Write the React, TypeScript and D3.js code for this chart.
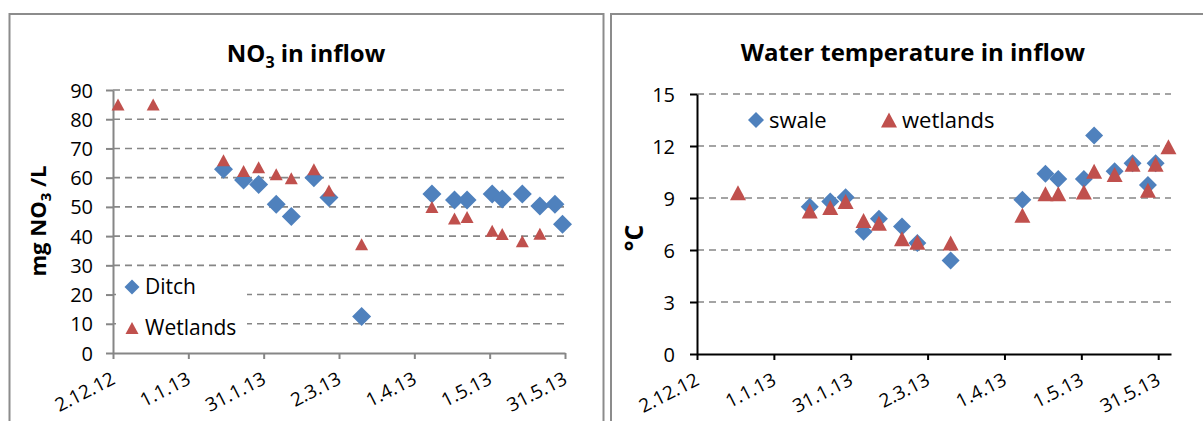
import React, { useEffect, useRef } from 'react';
import * as d3 from 'd3';

const parseDay = d3.utcParse('%d.%m.%y');

const xTickLabels = ['2.12.12', '1.1.13', '31.1.13', '2.3.13', '1.4.13', '1.5.13', '31.5.13'];

// NO3 in inflow
const ditchDates = ['15.1.13', '23.1.13', '29.1.13', '5.2.13', '11.2.13', '20.2.13', '26.2.13', '11.3.13', '8.4.13', '17.4.13', '22.4.13', '2.5.13', '6.5.13', '14.5.13', '21.5.13', '27.5.13', '30.5.13'];
const ditchNO3 = [62.9, 59.2, 57.7, 50.9, 46.7, 60.0, 53.2, 12.5, 54.4, 52.4, 52.4, 54.4, 52.7, 54.4, 50.3, 50.9, 44.1];
const wetlandsNO3Dates = ['4.12.12', '18.12.12', '15.1.13', '23.1.13', '29.1.13', '5.2.13', '11.2.13', '20.2.13', '26.2.13', '11.3.13', '8.4.13', '17.4.13', '22.4.13', '2.5.13', '6.5.13', '14.5.13', '21.5.13'];
const wetlandsNO3 = [85, 85, 66, 62.3, 63.6, 61.2, 59.8, 62.9, 55.6, 37.2, 50, 46, 46.5, 41.8, 40.7, 38.2, 40.8];
const no3Ticks = [0, 10, 20, 30, 40, 50, 60, 70, 80, 90];

// Water temperature in inflow
const swaleDates = ['15.1.13', '23.1.13', '29.1.13', '5.2.13', '11.2.13', '20.2.13', '26.2.13', '11.3.13', '8.4.13', '17.4.13', '22.4.13', '2.5.13', '6.5.13', '14.5.13', '21.5.13', '27.5.13', '30.5.13'];
const swaleTemp = [8.5, 8.8, 9.05, 7.05, 7.8, 7.35, 6.4, 5.4, 8.9, 10.4, 10.1, 10.1, 12.6, 10.55, 11.0, 9.75, 11.0];
const wetlandsTempDates = ['18.12.12', '15.1.13', '23.1.13', '29.1.13', '5.2.13', '11.2.13', '20.2.13', '26.2.13', '11.3.13', '8.4.13', '17.4.13', '22.4.13', '2.5.13', '6.5.13', '14.5.13', '21.5.13', '27.5.13', '30.5.13', '4.6.13'];
const wetlandsTemp = [9.3, 8.25, 8.45, 8.8, 7.7, 7.55, 6.65, 6.45, 6.4, 8.0, 9.25, 9.25, 9.35, 10.55, 10.35, 10.95, 9.45, 10.95, 11.95];
const tempTicks = [0, 3, 6, 9, 12, 15];

const BLUE = '#4F81BD';
const RED = '#C0504D';
const FONT = '"Open Sans", sans-serif';

const diamond = (r: number) => `M0,${-r}L${r},0L0,${r}L${-r},0Z`;
const triangle = (w: number, h: number) => `M0,${-h / 2}L${w / 2},${h / 2}L${-w / 2},${h / 2}Z`;

function drawPanel(svg: any, p: any) {
  const x = d3.scaleUtc()
    .domain([parseDay('2.12.12') as Date, parseDay(p.xEnd) as Date])
    .range([p.left, p.right]);
  const y = d3.scaleLinear().domain([0, p.yMax]).range([p.bottom, p.top]);

  const g = svg.append('g');

  // dashed gridlines
  p.yTicks.filter((v: number) => v > 0).forEach((v: number) => {
    g.append('line')
      .attr('x1', p.left).attr('x2', p.right)
      .attr('y1', y(v)).attr('y2', y(v))
      .attr('stroke', '#868686')
      .attr('stroke-width', 1.6)
      .attr('stroke-dasharray', '7,5');
  });

  // legend background (hides gridlines)
  if (p.legendBox) {
    g.append('rect')
      .attr('x', p.legendBox[0]).attr('y', p.legendBox[1])
      .attr('width', p.legendBox[2]).attr('height', p.legendBox[3])
      .attr('fill', '#fff');
  }

  // y axis
  const yAxis = g.append('g')
    .attr('transform', `translate(${p.left},0)`)
    .call(d3.axisLeft(y).tickValues(p.yTicks).tickSize(7).tickSizeOuter(0).tickPadding(p.yPad));
  yAxis.select('.domain').attr('stroke', p.axisColor).attr('stroke-width', 2);
  yAxis.selectAll('.tick line').attr('stroke', p.axisColor).attr('stroke-width', 2);
  yAxis.selectAll('.tick text')
    .attr('font-family', FONT).attr('font-size', 20).attr('fill', '#000').attr('dy', '0.35em');

  // x axis
  const tickDates = xTickLabels.map(s => parseDay(s) as Date);
  const xAxis = g.append('g')
    .attr('transform', `translate(0,${p.bottom})`)
    .call(d3.axisBottom(x).tickValues(tickDates).tickSize(6).tickSizeOuter(0)
      .tickFormat((_d: any, i: number) => xTickLabels[i]));
  xAxis.select('.domain').attr('stroke', p.axisColor).attr('stroke-width', 2);
  xAxis.selectAll('.tick line').attr('stroke', p.axisColor).attr('stroke-width', 2);
  xAxis.selectAll('.tick text')
    .attr('font-family', FONT).attr('font-size', 19).attr('fill', '#000')
    .attr('y', 0).attr('dy', 0)
    .attr('text-anchor', 'end')
    .attr('transform', 'translate(3,30) rotate(-27)');

  // series
  p.series.forEach((s: any) => {
    const dates = s.dates.map((d: string) => parseDay(d) as Date);
    g.append('g').selectAll('path')
      .data(s.values)
      .join('path')
      .attr('d', s.shape)
      .attr('transform', (v: number, i: number) => `translate(${x(dates[i])},${y(v)})`)
      .attr('fill', s.color);
  });

  // legend
  p.legend.forEach((l: any) => {
    g.append('path').attr('d', l.shape).attr('fill', l.color)
      .attr('transform', `translate(${l.x},${l.y})`);
    g.append('text')
      .attr('x', l.x + 13).attr('y', l.y).attr('dy', '0.35em')
      .attr('font-family', FONT).attr('font-size', l.size).attr('fill', '#000')
      .text(l.label);
  });

  // title
  const t = g.append('text')
    .attr('x', p.titleX).attr('y', p.titleY)
    .attr('text-anchor', 'middle')
    .attr('font-family', FONT).attr('font-weight', 'bold').attr('font-size', 24).attr('fill', '#000');
  p.title.forEach((part: any) => {
    t.append('tspan').attr('font-size', part.sub ? 16 : 24).attr('dy', part.dy || 0).text(part.text);
  });

  // y axis title
  const yt = g.append('text')
    .attr('transform', `translate(${p.yTitleX},${p.yTitleY}) rotate(-90)`)
    .attr('text-anchor', 'middle')
    .attr('font-family', FONT).attr('font-weight', 'bold').attr('font-size', p.yTitleSize).attr('fill', '#000');
  p.yTitle.forEach((part: any) => {
    yt.append('tspan').attr('font-size', part.sub ? 15 : p.yTitleSize).attr('dy', part.dy || 0).text(part.text);
  });
}

const App: React.FC = () => {
  const svgRef = useRef<SVGSVGElement>(null);

  useEffect(() => {
    if (!svgRef.current) return;
    const svg = d3.select(svgRef.current);
    svg.selectAll('*').remove();

    // chart frames
    svg.append('rect').attr('x', 9.5).attr('y', 14).attr('width', 594).attr('height', 430)
      .attr('fill', '#fff').attr('stroke', '#8c8c8c').attr('stroke-width', 2);
    svg.append('rect').attr('x', 611).attr('y', 14).attr('width', 610).attr('height', 430)
      .attr('fill', '#fff').attr('stroke', '#8c8c8c').attr('stroke-width', 2);

    drawPanel(svg, {
      left: 113, right: 565, top: 90, bottom: 353, xEnd: '31.5.13',
      yMax: 90, yTicks: no3Ticks, yPad: 13, axisColor: '#868686',
      legendBox: [116, 268, 131, 76],
      series: [
        { dates: ditchDates, values: ditchNO3, color: BLUE, shape: diamond(9.5) },
        { dates: wetlandsNO3Dates, values: wetlandsNO3, color: RED, shape: triangle(13, 12) },
      ],
      legend: [
        { label: 'Ditch', x: 132, y: 287, color: BLUE, shape: diamond(7.5), size: 21 },
        { label: 'Wetlands', x: 132, y: 328, color: RED, shape: triangle(13, 12), size: 21 },
      ],
      titleX: 306, titleY: 62,
      title: [{ text: 'NO' }, { text: '3', sub: true, dy: 6 }, { text: ' in inflow', dy: -6 }],
      yTitleX: 46, yTitleY: 221, yTitleSize: 22,
      yTitle: [{ text: 'mg NO' }, { text: '3', sub: true, dy: 5 }, { text: ' /L', dy: -5 }],
    });

    drawPanel(svg, {
      left: 697, right: 1171, top: 94, bottom: 354, xEnd: '5.6.13',
      yMax: 15, yTicks: tempTicks, yPad: 15, axisColor: '#000',
      legendBox: null,
      series: [
        { dates: swaleDates, values: swaleTemp, color: BLUE, shape: diamond(9) },
        { dates: wetlandsTempDates, values: wetlandsTemp, color: RED, shape: triangle(16, 15) },
      ],
      legend: [
        { label: 'swale', x: 756, y: 120, color: BLUE, shape: diamond(8), size: 22 },
        { label: 'wetlands', x: 889, y: 120, color: RED, shape: triangle(16, 15), size: 22 },
      ],
      titleX: 913, titleY: 61,
      title: [{ text: 'Water temperature in inflow' }],
      yTitleX: 643, yTitleY: 238, yTitleSize: 25,
      yTitle: [{ text: '°C' }],
    });
  }, []);

  return (
    <svg ref={svgRef} width={1203} height={421}
      style={{ position: 'absolute', left: 0, top: 0, background: '#fff' }} />
  );
};

export default App;
